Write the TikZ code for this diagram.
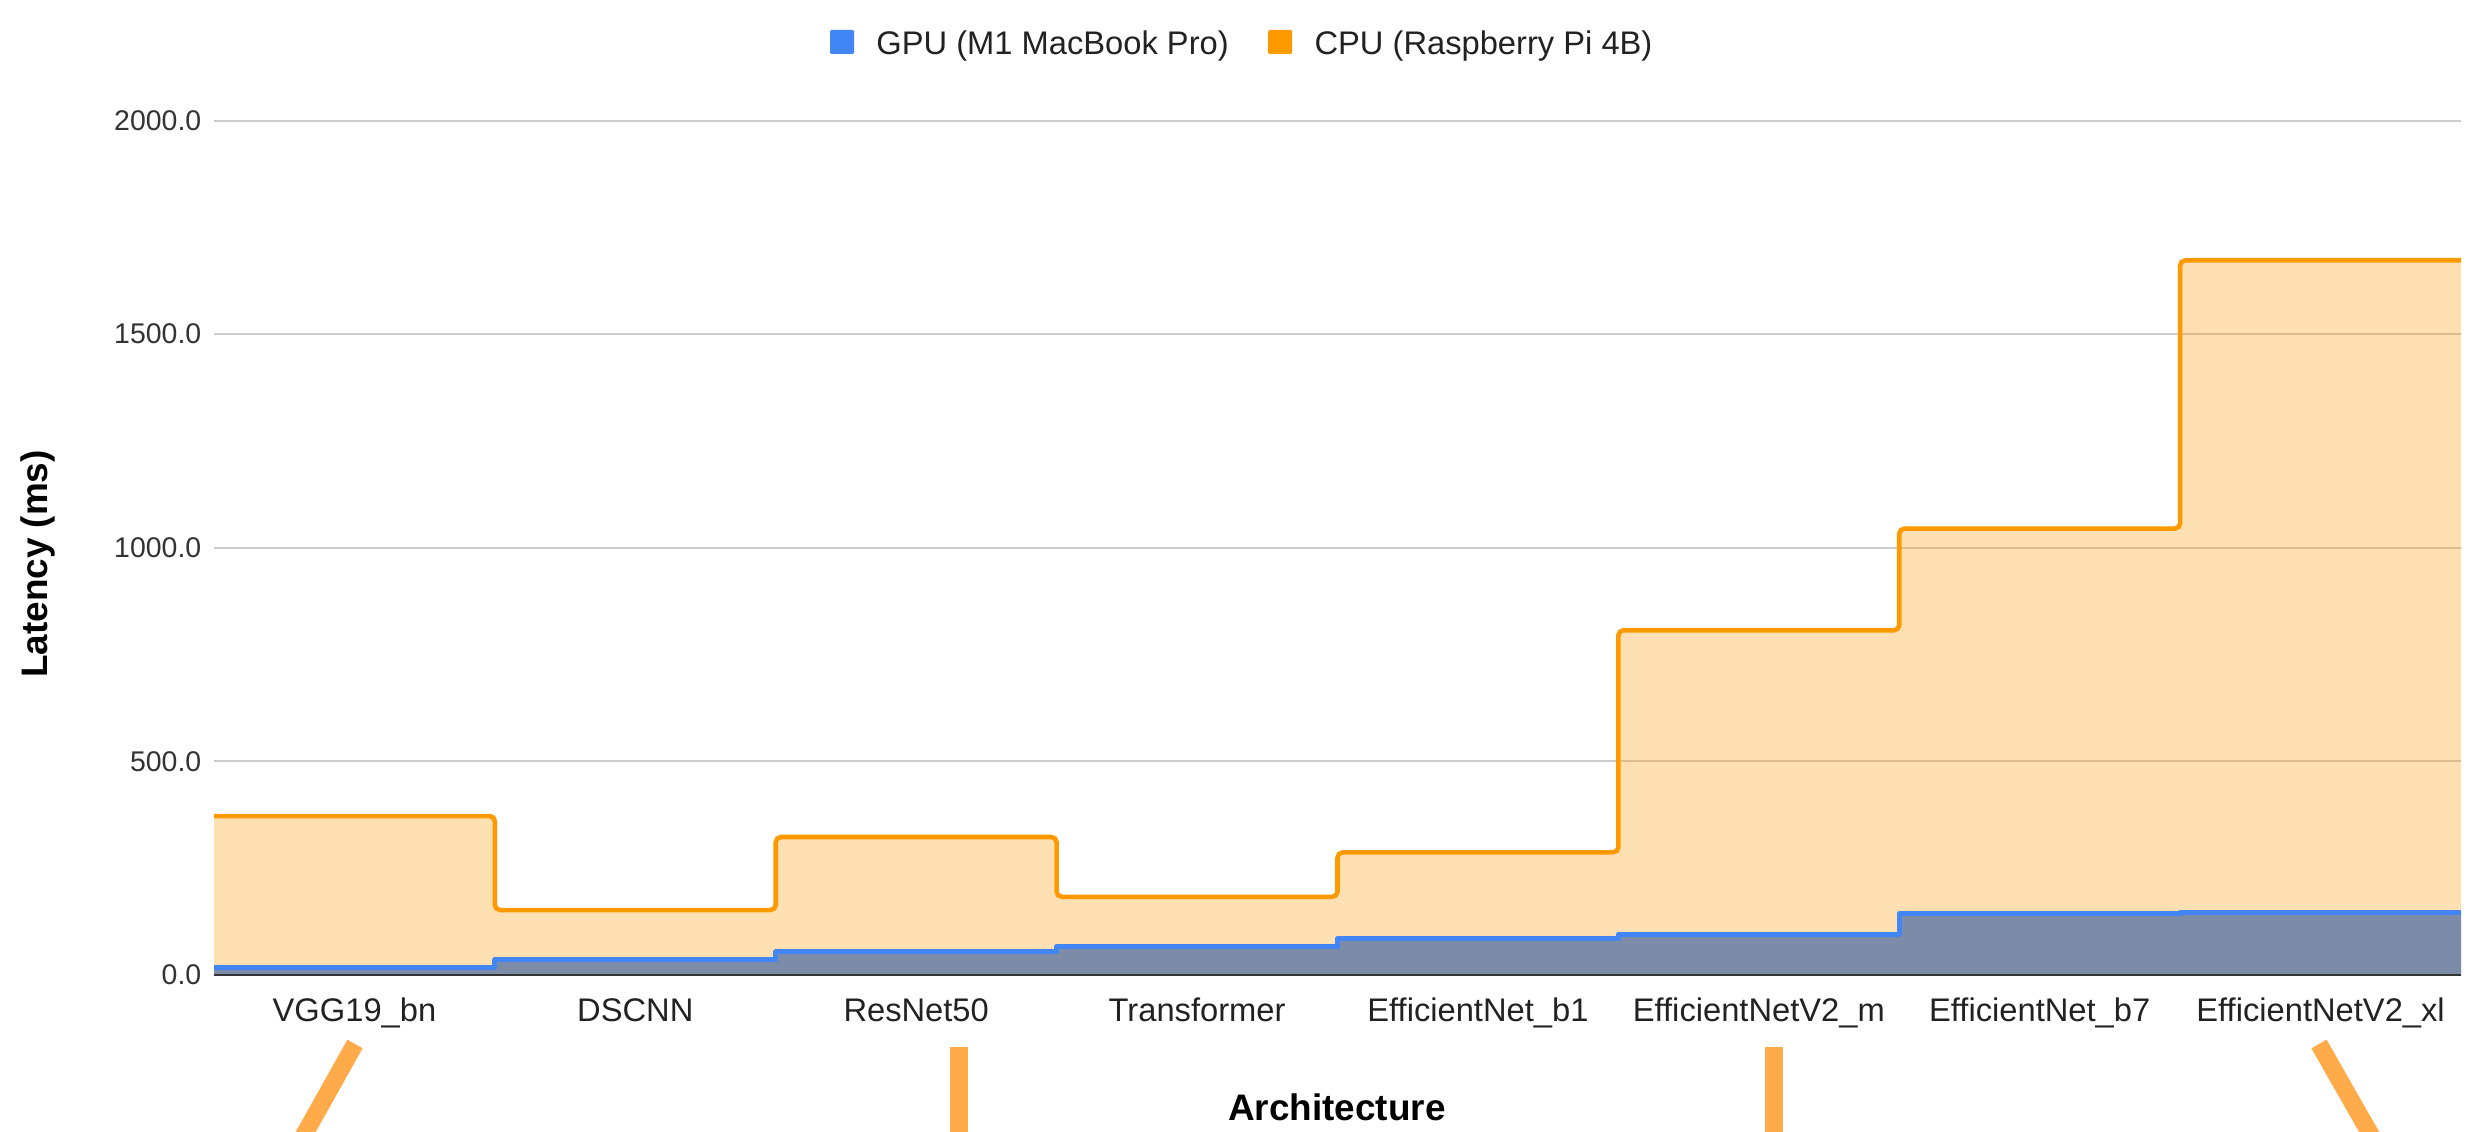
\documentclass[tikz,border=0pt]{standalone}
\usepackage{fontspec}
\setmainfont{Liberation Sans}
\usetikzlibrary{positioning}
\definecolor{cpuOrange}{HTML}{FF9900}
\definecolor{gpuBlue}{HTML}{4285F4}
\definecolor{gpuShade}{HTML}{7B8BA8}
\definecolor{gridGray}{HTML}{CCCCCC}
\definecolor{axisDark}{HTML}{333333}
\definecolor{textDark}{HTML}{222222}
\definecolor{markOrange}{HTML}{FFAB4A}

\begin{document}
\begin{tikzpicture}[every node/.style={font=\fontsize{9.3}{11}\selectfont, text=textDark, inner sep=0pt},
    ticklabel/.style={font=\fontsize{8.1}{10}\selectfont, text=axisDark},
    axistitle/.style={font=\fontsize{10.5}{12}\selectfont\bfseries, text=black},
    legendkey/.style={fill=#1, minimum size=0.24cm, rounded corners=0.4pt},
    legendtext/.style={text height=0.716em, text depth=0pt}]
  \useasboundingbox (0,0) rectangle (24.9,11.31);

  \node[legendkey=gpuBlue] (gpuKey) at (8.42,10.89) {};
  \node[legendtext, right=0.21cm of gpuKey] (gpuLabel) {GPU (M1 MacBook Pro)};
  \node[legendkey=cpuOrange, right=0.38cm of gpuLabel] (cpuKey) {};
  \node[legendtext, right=0.21cm of cpuKey] (cpuLabel) {CPU (Raspberry Pi 4B)};

  \node[axistitle, rotate=90] (yTitle) at (0.38,5.67) {Latency (ms)};
  \node[axistitle, anchor=base] (xTitle) at (13.37,0.11) {Architecture};

  \begin{scope}[shift={(2.14,1.56)}, x=2.80875cm, y=0.00427cm]
    \foreach \v in {500,1000,1500,2000}
      \draw[gridGray, line width=0.6pt] (0,\v) -- (8,\v);
    \foreach \v in {0,500,1000,1500,2000}
      \node[ticklabel, left=0.12cm] (tick\v) at (0,\v) {\v.0};
    % CPU (Raspberry Pi 4B)
    \fill[cpuOrange, opacity=0.3] (0,0) -- (0,372) -- (1,372) -- (1,152) -- (2,152) -- (2,323) -- (3,323)
      -- (3,183) -- (4,183) -- (4,287) -- (5,287) -- (5,807) -- (6,807) -- (6,1045) -- (7,1045)
      -- (7,1673) -- (8,1673) -- (8,0) -- cycle;
    % GPU (M1 MacBook Pro)
    \fill[gpuShade] (0,0) -- (0,18) -- (1,18) -- (1,36) -- (2,36) -- (2,54) -- (3,54) -- (3,66) -- (4,66)
      -- (4,85) -- (5,85) -- (5,95) -- (6,95) -- (6,144) -- (7,144) -- (7,147) -- (8,147) -- (8,0) -- cycle;
    \draw[gpuBlue, line width=1.4pt, line join=round] (0,18) -- (1,18) -- (1,36) -- (2,36) -- (2,54)
      -- (3,54) -- (3,66) -- (4,66) -- (4,85) -- (5,85) -- (5,95) -- (6,95) -- (6,144) -- (7,144)
      -- (7,147) -- (8,147);
    \draw[cpuOrange, line width=1.3pt, rounded corners=1.5pt] (0,372) -- (1,372) -- (1,152) -- (2,152)
      -- (2,323) -- (3,323) -- (3,183) -- (4,183) -- (4,287) -- (5,287) -- (5,807) -- (6,807)
      -- (6,1045) -- (7,1045) -- (7,1673) -- (8,1673);
    \draw[axisDark, line width=0.8pt] (0,0) -- (8,0);
    \foreach \lbl [count=\i] in {VGG19\_bn, DSCNN, ResNet50, Transformer, EfficientNet\_b1,
        EfficientNetV2\_m, EfficientNet\_b7, EfficientNetV2\_xl}
      \node[anchor=base, yshift=-0.47cm] (cat\i) at (\i-0.5,0) {\lbl};
  \end{scope}

  \begin{scope}
    \clip (0,0) rectangle (24.9,11.31);
    \draw[markOrange, line width=0.175cm] (3.55,0.87) -- (2.95,-0.2);
    \draw[markOrange, line width=0.175cm] (9.59,0.84) -- (9.59,-0.2);
    \draw[markOrange, line width=0.175cm] (17.74,0.84) -- (17.74,-0.2);
    \draw[markOrange, line width=0.175cm] (23.19,0.87) -- (23.80,-0.2);
  \end{scope}
\end{tikzpicture}
\end{document}
